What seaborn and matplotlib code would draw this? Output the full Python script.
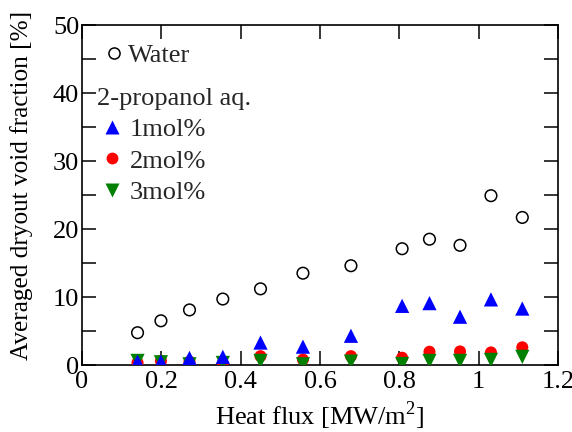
import matplotlib
matplotlib.use("Agg")
import matplotlib.pyplot as plt
from matplotlib.ticker import MultipleLocator
from matplotlib.lines import Line2D
import seaborn as sns
import pandas as pd

# Heat flux [MW/m^2] for each test condition
heat_flux = [0.140, 0.199, 0.271, 0.355, 0.450, 0.557, 0.678, 0.807, 0.876, 0.953, 1.031, 1.110]

# Averaged dryout void fraction [%]
water = [4.75, 6.5, 8.1, 9.7, 11.2, 13.5, 14.6, 17.1, 18.5, 17.6, 24.9, 21.7]
mol1 = [0.5, 0.5, 1.05, 1.2, 3.3, 2.7, 4.3, 8.7, 9.1, 7.1, 9.65, 8.3]
mol2 = [0.35, 0.6, 0.5, 0.25, 1.3, 0.8, 1.3, 1.07, 1.95, 2.0, 1.85, 2.6]
mol3 = [0.6, 0.4, 0.1, 0.3, 0.6, 0.1, 0.5, 0.15, 0.6, 0.6, 0.75, 1.2]

x_ticks = [0, 0.2, 0.4, 0.6, 0.8, 1.0, 1.2]
x_tick_labels = ["0", "0.2", "0.4", "0.6", "0.8", "1", "1.2"]
y_ticks = [0, 10, 20, 30, 40, 50]

sns.set_style("ticks")
plt.rcParams["font.family"] = ["Liberation Serif", "DejaVu Serif"]
plt.rcParams["mathtext.fontset"] = "custom"
plt.rcParams["mathtext.rm"] = "Liberation Serif"
FS = 19

df = pd.DataFrame({"q": heat_flux, "water": water, "m1": mol1, "m2": mol2, "m3": mol3})

fig = plt.figure(figsize=(5.72, 4.32), dpi=100)
ax = fig.add_axes([82 / 572, 1 - 365 / 432, (558 - 82) / 572, (365 - 25) / 432])

sns.scatterplot(data=df, x="q", y="water", ax=ax, marker="o", s=70,
                facecolor="none", edgecolor="black", linewidth=1.1, zorder=3)
sns.scatterplot(data=df, x="q", y="m2", ax=ax, marker="o", s=75,
                color="#ff0000", edgecolor="none", zorder=4)
sns.scatterplot(data=df, x="q", y="m3", ax=ax, marker="v", s=105,
                color="#008000", edgecolor="none", zorder=5)
sns.scatterplot(data=df, x="q", y="m1", ax=ax, marker="^", s=105,
                color="#0000ff", edgecolor="none", zorder=6)

ax.set_xlim(0, 1.2)
ax.set_ylim(0, 50)
ax.set_xticks(x_ticks)
ax.set_xticklabels(x_tick_labels)
ax.set_yticks(y_ticks)
ax.yaxis.set_minor_locator(MultipleLocator(5))
ax.tick_params(axis="both", which="both", direction="in", top=True, right=True,
               labelsize=FS, width=1.1, color="black", labelcolor="black")
ax.tick_params(axis="x", which="major", length=10, pad=4)
ax.tick_params(axis="y", which="major", length=10, pad=2)
ax.tick_params(axis="y", which="minor", length=10)
for sp in ax.spines.values():
    sp.set_linewidth(1.2)
    sp.set_color("black")

ax.set_xlabel("Heat flux [MW/m$^2$]", fontsize=FS, labelpad=5, color="black")
ax.set_ylabel("Averaged dryout void fraction [%]", fontsize=18.2, color="black")
ax.yaxis.set_label_coords(-0.102, 0.528)

h_water = Line2D([], [], ls="none", marker="o", ms=8, mfc="none", mec="black", mew=1.1)
leg1 = ax.legend([h_water], ["Water"], loc="upper left", bbox_to_anchor=(0.0, 1.0),
                 frameon=False, fontsize=FS, handletextpad=0.05, handlelength=1.0,
                 borderaxespad=0.3)
ax.add_artist(leg1)

h1 = Line2D([], [], ls="none", marker="^", ms=10, mfc="#0000ff", mec="none")
h2 = Line2D([], [], ls="none", marker="o", ms=8.5, mfc="#ff0000", mec="none")
h3 = Line2D([], [], ls="none", marker="v", ms=10, mfc="#008000", mec="none")
leg2 = ax.legend([h1, h2, h3], ["1mol%", "2mol%", "3mol%"], title="2-propanol aq.",
                 loc="upper left", bbox_to_anchor=(-0.018, 0.885), frameon=False,
                 fontsize=FS, title_fontsize=FS, handletextpad=0.15, handlelength=1.1,
                 labelspacing=0.3, alignment="left")

fig.savefig("out.png", dpi=100)
